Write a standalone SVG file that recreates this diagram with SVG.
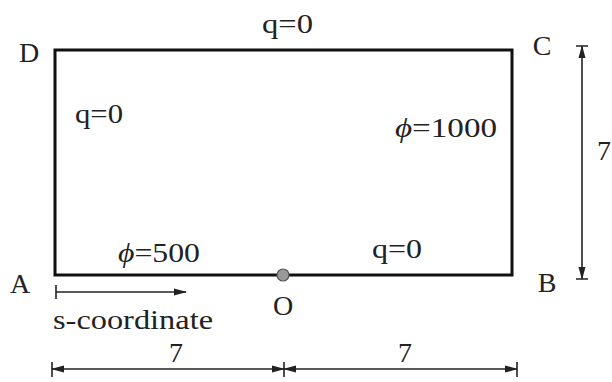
<svg xmlns="http://www.w3.org/2000/svg" width="612" height="382" viewBox="0 0 612 382">
<style>
text{font-family:"Liberation Serif","Times New Roman",serif;font-size:28px;fill:#222}
.ph{font-style:italic}
.dim{stroke:#222;stroke-width:1.6;fill:none}
</style>
<defs>
<marker id="ah" markerWidth="13" markerHeight="8" refX="12" refY="4" orient="auto" markerUnits="userSpaceOnUse">
<path d="M0,0.5 L13,4 L0,7.5 Z" fill="#222"/>
</marker>
<marker id="as" markerWidth="13" markerHeight="8" refX="1" refY="4" orient="auto" markerUnits="userSpaceOnUse">
<path d="M13,0.5 L0,4 L13,7.5 Z" fill="#222"/>
</marker>
</defs>
<rect width="612" height="382" fill="#fff"/>
<g id="domain">
<rect x="55" y="50" width="457" height="225" fill="none" stroke="#111" stroke-width="3"/>
</g>
<g id="point-O">
<circle cx="283" cy="275" r="6" fill="#999" stroke="#555" stroke-width="1.2"/>
<text x="283" y="315" text-anchor="middle">O</text>
</g>
<g id="labels">
<text x="29" y="62" text-anchor="middle">D</text>
<text x="542" y="55" text-anchor="middle">C</text>
<text x="20" y="293" text-anchor="middle">A</text>
<text x="547" y="292" text-anchor="middle">B</text>
<text x="262" y="33" textLength="51" lengthAdjust="spacingAndGlyphs">q=0</text>
<text x="75" y="123" textLength="48" lengthAdjust="spacingAndGlyphs">q=0</text>
<text x="395" y="137" textLength="102" lengthAdjust="spacingAndGlyphs"><tspan class="ph">ϕ</tspan>=1000</text>
<text x="118" y="262" textLength="82" lengthAdjust="spacingAndGlyphs"><tspan class="ph">ϕ</tspan>=500</text>
<text x="372" y="258" textLength="50" lengthAdjust="spacingAndGlyphs">q=0</text>
<text x="53" y="329" textLength="160" lengthAdjust="spacingAndGlyphs">s-coordinate</text>
<text x="176" y="362" text-anchor="middle">7</text>
<text x="405" y="362" text-anchor="middle">7</text>
<text x="597" y="160">7</text>
</g>
<g id="connectors">
<path class="dim" d="M56,285 V299"/>
<path class="dim" d="M56,292 H186" marker-end="url(#ah)"/>
<path class="dim" d="M576,46 H588 M576,279 H588"/>
<path class="dim" d="M582,46 V279" marker-start="url(#as)" marker-end="url(#ah)"/>
<path class="dim" d="M52,362 V377 M284,362 V377 M517,362 V377"/>
<path class="dim" d="M52,369 H284" marker-start="url(#as)" marker-end="url(#ah)"/>
<path class="dim" d="M284,369 H517" marker-start="url(#as)" marker-end="url(#ah)"/>
</g>
</svg>
